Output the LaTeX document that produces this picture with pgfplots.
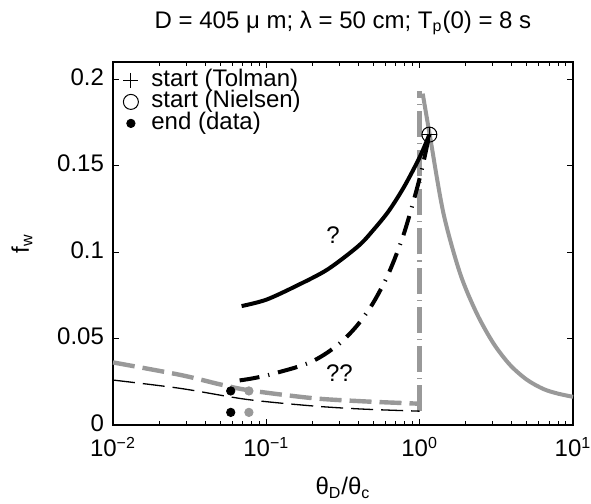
\documentclass[border=0pt]{standalone}
\usepackage{fontspec}
\setmainfont{Liberation Sans}
\usepackage{pgfplots}
\pgfplotsset{compat=1.18}
\definecolor{lgray}{RGB}{153,153,153}
\newcommand{\lfont}{\fontsize{12}{14}\selectfont}
\begin{document}
\begin{tikzpicture}
\begin{axis}[
  scale only axis, width=230pt, height=181.5pt,
  xmode=log, xmin=0.01, xmax=10, ymin=0, ymax=0.21,
  xtick={0.01,0.1,1,10},
  xticklabels={10\textsuperscript{−2},10\textsuperscript{−1},10\textsuperscript{0},10\textsuperscript{1}},
  minor xtick={0.02,0.03,0.04,0.05,0.06,0.07,0.08,0.09,0.2,0.3,0.4,0.5,0.6,0.7,0.8,0.9,2,3,4,5,6,7,8,9},
  ytick={0,0.05,0.1,0.15,0.2},
  yticklabels={0,0.05,0.1,0.15,0.2},
  tick align=inside, major tick length=3pt, minor tick length=1.8pt,
  axis line style={line width=0.6pt},
  every tick/.style={black, line width=0.5pt},
  tick label style={font=\lfont},
  xticklabel style={yshift=-2.5pt},
  yticklabel style={xshift=-1pt, yshift=1pt},
  title={D = 405 μ m; λ = 50 cm; T\textsubscript{p}(0) = 8 s},
  title style={font=\lfont, at={(axis description cs:0.5,1)}, anchor=base, yshift=11pt},
  xlabel={θ\textsubscript{D}/θ\textsubscript{c}},
  xlabel style={font=\lfont, at={(axis description cs:0.5,0)}, anchor=base, yshift=-35pt},
  ylabel={f\textsubscript{w}},
  ylabel style={font=\lfont, at={(axis description cs:-0.198,0.5)}, anchor=center},
  legend image code/.code={\draw[#1] plot coordinates {(0pt,0pt)};},
  legend style={at={(axis description cs:0,1)}, anchor=north west, xshift=5pt, yshift=-3pt,
    draw=none, fill=none, font=\lfont, inner sep=0pt, row sep=-1.25pt,
    nodes={inner sep=0.5pt, text height=8.5pt, text depth=2.5pt},
    /tikz/every odd column/.append style={column sep=6pt}},
  legend cell align=left,
  clip=false,
]
% gray solid (x > 1)
\addplot[lgray, line width=2pt, smooth, forget plot] coordinates {
 (1.047,0.1917) (1.17,0.1666) (1.43,0.1224) (1.835,0.0877) (2.355,0.0646)
 (3.03,0.0472) (3.89,0.0347) (5.0,0.0262) (6.42,0.0208) (7.94,0.0182) (10,0.0163)};
% gray dashed (x < 1)
\addplot[lgray, line width=2.2pt, smooth, dash pattern=on 11pt off 4pt, forget plot] coordinates {
 (0.01,0.0362) (0.0274,0.029) (0.0499,0.0235) (0.078,0.0200) (0.202,0.0155)
 (0.426,0.0137) (0.83,0.0126) (1,0.0123)};
% gray vertical dash-dot
\addplot[lgray, line width=2.2pt, dash pattern=on 13pt off 3pt on 0.6pt off 3pt, forget plot] coordinates {
 (1,0.008) (1,0.193)};
% black thin dashed
\addplot[black, line width=0.65pt, smooth, dash pattern=on 11pt off 4pt, forget plot] coordinates {
 (0.01,0.026) (0.0274,0.0212) (0.0745,0.0148) (0.202,0.011) (0.426,0.0092) (1,0.008)};
% black solid
\addplot[black, line width=2pt, smooth, forget plot] coordinates {
 (0.069,0.0688) (0.1,0.0725) (0.158,0.0806) (0.251,0.090) (0.398,0.1035)
 (0.501,0.113) (0.631,0.124) (0.794,0.138) (1.0,0.1549) (1.157,0.168)};
% black dash-dot
\addplot[black, line width=2pt, smooth, dash pattern=on 10pt off 4.5pt on 0.6pt off 4.5pt, forget plot] coordinates {
 (0.067,0.0258) (0.0794,0.0268) (0.1,0.0286) (0.1259,0.031) (0.158,0.0335) (0.1995,0.0368)
 (0.2512,0.0420) (0.3162,0.0489) (0.3981,0.0584) (0.5012,0.0711) (0.631,0.0882)
 (0.7943,0.1114) (1.0,0.1427) (1.157,0.168)};
% gray end dots
\addplot[only marks, mark=*, lgray, mark size=2.1pt, forget plot] coordinates {(0.077,0.0197) (0.077,0.0073)};
% markers
\addplot[only marks, mark=+, black, mark size=3.75pt, line width=0.5pt] coordinates {(1.157,0.168)};
\addlegendentry{start (Tolman)}
\addplot[only marks, mark=o, black, mark size=3.75pt, line width=0.5pt] coordinates {(1.157,0.168)};
\addlegendentry{start (Nielsen)}
\addplot[only marks, mark=*, black, mark size=2.1pt] coordinates {(0.0586,0.0197) (0.0586,0.0073)};
\addlegendentry{end (data)}
\node[font=\lfont] at (axis cs:0.272,0.11) {?};
\node[font=\lfont] at (axis cs:0.30,0.030) {??};
\end{axis}
\pgfresetboundingbox
\path[use as bounding box] (current axis.south west) ++(-56.5pt,-39.5pt) rectangle ++(295.5pt,252pt);
\end{tikzpicture}
\end{document}
